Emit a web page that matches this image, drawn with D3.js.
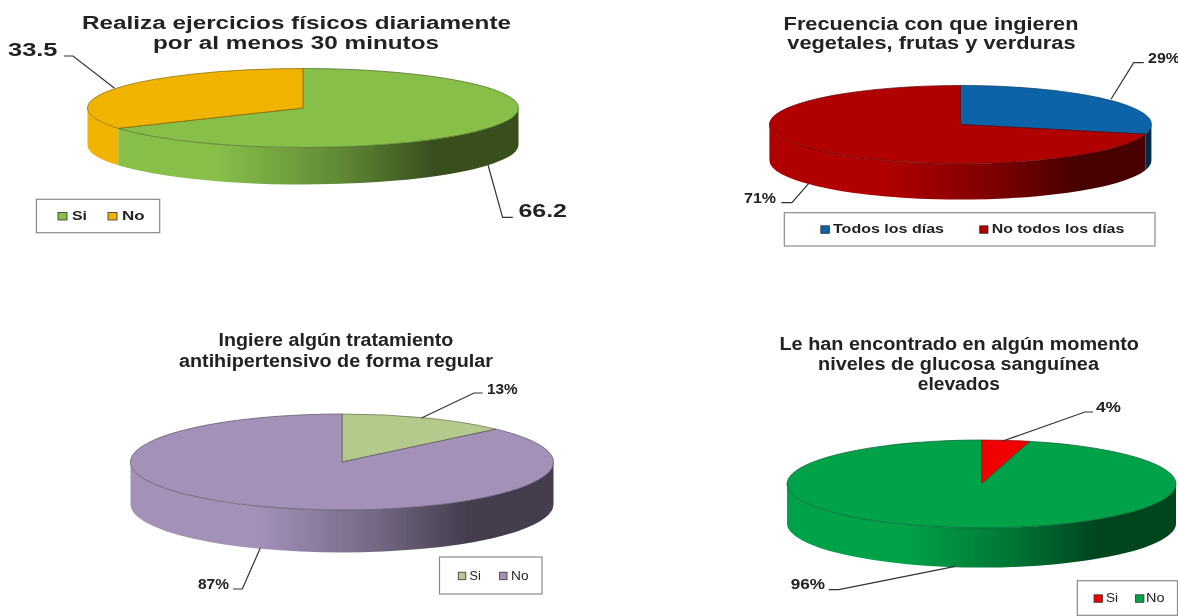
<!DOCTYPE html>
<html>
<head>
<meta charset="utf-8">
<script src="https://cdn.jsdelivr.net/npm/d3@7"></script>
<style>
    html, body { margin: 0; padding: 0; background: #fff; overflow: hidden; }
    svg { display: block; }
    text { font-family: "Liberation Sans", Arial, sans-serif; fill: #222; }
</style>
</head>
<body>
<div id="canvas"></div>
<script>
"use strict"

let svgWidth = 1178
let svgHeight = 616

// values, one chart after the other
let ejercicioCategories = ["Si", "No"]
let ejercicioValues = [66.2, 33.5]
let ejercicioLabels = ["66.2", "33.5"]
let ejercicioColors = ["#87bf4a", "#f0b400"]

let vegetalesCategories = ["Todos los días", "No todos los días"]
let vegetalesValues = [29, 71]
let vegetalesLabels = ["29%", "71%"]
let vegetalesColors = ["#0b64a8", "#b00000"]

let tratamientoCategories = ["Si", "No"]
let tratamientoValues = [13, 87]
let tratamientoLabels = ["13%", "87%"]
let tratamientoColors = ["#b4c98c", "#a391b8"]

let glucosaCategories = ["Si", "No"]
let glucosaValues = [4, 96]
let glucosaLabels = ["4%", "96%"]
let glucosaColors = ["#f00000", "#05a249"]

/* Layout for each chart:
   pie: centre, radii and wall height of the flattened pie
   title: [text, left, right, baseline]
   labels: [left, right, baseline, size], same order as the values
   leaders: the polyline for each label
   legend: box, then swatch and text spans per category */
let charts = [
    {
        id: "ejercicio",
        categories: ejercicioCategories, values: ejercicioValues, labels: ejercicioLabels, colors: ejercicioColors,
        pie: { cx: 303, cy: 108, rx: 215.5, ry: 39.5, depth: 37 },
        title: [
            ["Realiza ejercicios físicos diariamente", 82, 511, 28.5],
            ["por al menos 30 minutos", 153, 439, 49]
        ],
        labelBoxes: [[518.4, 567, 216.7, 19], [8, 57.5, 55.7, 19]],
        leaders: [
            [[488, 165], [502.6, 217.3], [512.8, 217.3]],
            [[64, 56], [73, 56], [114.6, 88.3]]
        ],
        legend: {
            box: [36.4, 199.3, 159.7, 232.7], weight: "bold", baseline: 220,
            swatches: [[58, 67], [108, 117]], texts: [[72, 87], [122, 144.6]]
        }
    },
    {
        id: "vegetales",
        categories: vegetalesCategories, values: vegetalesValues, labels: vegetalesLabels, colors: vegetalesColors,
        pie: { cx: 960.4, cy: 124.5, rx: 191, ry: 39, depth: 36 },
        title: [
            ["Frecuencia con que ingieren", 783.6, 1078.5, 30],
            ["vegetales, frutas y verduras", 787.3, 1075.5, 49.3]
        ],
        labelBoxes: [[1148, 1180, 62.7, 14], [744, 776, 203.3, 14]],
        leaders: [
            [[1111, 99.3], [1133.7, 62.7], [1143.8, 62.7]],
            [[808.8, 183.3], [791.9, 202.7], [781.3, 202.7]]
        ],
        legend: {
            box: [784.3, 212.7, 1155, 246], weight: "bold", baseline: 233.3,
            swatches: [[820.8, 829.4], [979.7, 988]], texts: [[833, 944], [991.7, 1124.3]]
        }
    },
    {
        id: "tratamiento",
        categories: tratamientoCategories, values: tratamientoValues, labels: tratamientoLabels, colors: tratamientoColors,
        pie: { cx: 342, cy: 462, rx: 211.5, ry: 48, depth: 42.5 },
        title: [
            ["Ingiere algún tratamiento", 218.6, 453.4, 346.3],
            ["antihipertensivo de forma regular", 179, 493, 366.7]
        ],
        labelBoxes: [[487, 517.7, 393.7, 14], [198, 229, 588.7, 14]],
        leaders: [
            [[421.5, 418], [474, 393], [482.7, 393]],
            [[260.3, 548], [242.3, 589], [233, 589]]
        ],
        legend: {
            box: [439.5, 557, 542, 594], weight: "normal", baseline: 579.7,
            swatches: [[458.3, 465.8], [499.6, 507]], texts: [[469.6, 480.8], [511, 528.5]]
        }
    },
    {
        id: "glucosa",
        categories: glucosaCategories, values: glucosaValues, labels: glucosaLabels, colors: glucosaColors,
        pie: { cx: 981.5, cy: 484, rx: 194.5, ry: 44, depth: 39.5 },
        title: [
            ["Le han encontrado en algún momento", 779.5, 1139, 350],
            ["niveles de glucosa sanguínea", 818, 1099, 370.3],
            ["elevados", 917.7, 1000, 390]
        ],
        labelBoxes: [[1096, 1121, 412, 15.5], [790.7, 825, 589, 15.5]],
        leaders: [
            [[1002.2, 441.3], [1084.9, 412], [1093, 412]],
            [[955.3, 566.3], [838.8, 589.7], [828.7, 589.7]]
        ],
        legend: {
            box: [1077.3, 580.7, 1177.5, 615.3], weight: "normal", baseline: 602.3,
            swatches: [[1094, 1102.5], [1135.6, 1143.9]], texts: [[1106, 1118], [1146, 1164.5]]
        }
    }
]

let svg = d3.select("#canvas")
    .append("svg")
    .attr("width", svgWidth)
    .attr("height", svgHeight)

let defs = svg.append("defs")

// the reference is a soft, upscaled picture
defs.append("filter")
    .attr("id", "soft")
    .attr("filterUnits", "userSpaceOnUse")
    .attr("x", 0).attr("y", 0)
    .attr("width", svgWidth).attr("height", svgHeight)
    .append("feGaussianBlur")
    .attr("stdDeviation", 0.5)

let root = svg.append("g").attr("filter", "url(#soft)")

// text squeezed or stretched to the width it has in the picture
function fitText(group, text, left, right, baseline, size, weight) {
    group.append("text")
        .attr("x", left)
        .attr("y", baseline)
        .attr("textLength", right - left)
        .attr("lengthAdjust", "spacingAndGlyphs")
        .style("font-size", size + "px")
        .style("font-weight", weight)
        .text(text)
}

function shade(color, k) {
    let c = d3.rgb(color)
    return d3.rgb(c.r * k, c.g * k, c.b * k).formatHex()
}

// horizontal shading of the wall: flat on the left, dark towards the right
function addWallGradient(id, color, pie) {
    let gradient = defs.append("linearGradient")
        .attr("id", id)
        .attr("gradientUnits", "userSpaceOnUse")
        .attr("x1", pie.cx - pie.rx).attr("x2", pie.cx + pie.rx)
        .attr("y1", 0).attr("y2", 0)

    let stops = [[0, 1], [0.3, 1], [0.58, 0.72], [0.8, 0.42], [1, 0.42]]
    stops.forEach(function (s) {
        gradient.append("stop")
            .attr("offset", s[0])
            .attr("stop-color", shade(color, s[1]))
    })
}

// the wall of one slice, only the part facing the viewer (90 to 270 degrees)
function wallPath(slice, pie) {
    let a0 = Math.max(slice.startAngle, Math.PI / 2)
    let a1 = Math.min(slice.endAngle, Math.PI * 1.5)
    if (a1 <= a0) return null

    let px = function (a) { return pie.cx + pie.rx * Math.sin(a) }
    let py = function (a) { return pie.cy - pie.ry * Math.cos(a) }
    let big = a1 - a0 > Math.PI ? 1 : 0

    return `M${px(a0)},${py(a0)}`
        + `A${pie.rx},${pie.ry} 0 ${big} 1 ${px(a1)},${py(a1)}`
        + `L${px(a1)},${py(a1) + pie.depth}`
        + `A${pie.rx},${pie.ry} 0 ${big} 0 ${px(a0)},${py(a0) + pie.depth}Z`
}

function drawChart(chart) {
    let group = root.append("g").attr("class", chart.id)
    let pie = chart.pie

    let slices = d3.pie().sort(null)(chart.values)
    let arc = d3.arc().innerRadius(0).outerRadius(pie.rx)

    // Walls first, the top goes over them
    slices.forEach(function (slice, i) {
        let d = wallPath(slice, pie)
        if (d === null) return
        let gradientId = chart.id + "-wall-" + i
        addWallGradient(gradientId, chart.colors[i], pie)
        group.append("path")
            .attr("d", d)
            .attr("fill", `url(#${gradientId})`)
    })

    // Top: a normal d3 arc flattened into an ellipse
    group.append("g")
        .attr("transform", `translate(${pie.cx},${pie.cy}) scale(1,${pie.ry / pie.rx})`)
        .selectAll("path")
        .data(slices)
        .join("path")
        .attr("d", arc)
        .attr("fill", function (d, i) { return chart.colors[i] })
        .attr("stroke", function (d, i) { return shade(chart.colors[i], 0.55) })
        .attr("stroke-width", 0.7)
        .attr("vector-effect", "non-scaling-stroke")

    // Title
    chart.title.forEach(function (line) {
        fitText(group, line[0], line[1], line[2], line[3], 18, "bold")
    })

    // Leaders and value labels
    let leaderLine = d3.line()
    chart.leaders.forEach(function (points) {
        group.append("path")
            .attr("d", leaderLine(points))
            .attr("fill", "none")
            .attr("stroke", "#333")
            .attr("stroke-width", 1.2)
    })
    chart.labels.forEach(function (label, i) {
        let b = chart.labelBoxes[i]
        fitText(group, label, b[0], b[1], b[2], b[3], "bold")
    })

    // Legend
    let legend = chart.legend
    group.append("rect")
        .attr("x", legend.box[0])
        .attr("y", legend.box[1])
        .attr("width", legend.box[2] - legend.box[0])
        .attr("height", legend.box[3] - legend.box[1])
        .attr("fill", "#fff")
        .attr("stroke", "#8a8a8a")
        .attr("stroke-width", 1.2)

    chart.categories.forEach(function (category, i) {
        let s = legend.swatches[i]
        group.append("rect")
            .attr("x", s[0])
            .attr("y", legend.baseline - 7.5)
            .attr("width", s[1] - s[0])
            .attr("height", 7.5)
            .attr("fill", chart.colors[i])
            .attr("stroke", "#333")
            .attr("stroke-width", 0.8)

        let t = legend.texts[i]
        fitText(group, category, t[0], t[1], legend.baseline, 12.5, legend.weight)
    })
}

charts.forEach(drawChart)
</script>
</body>
</html>
